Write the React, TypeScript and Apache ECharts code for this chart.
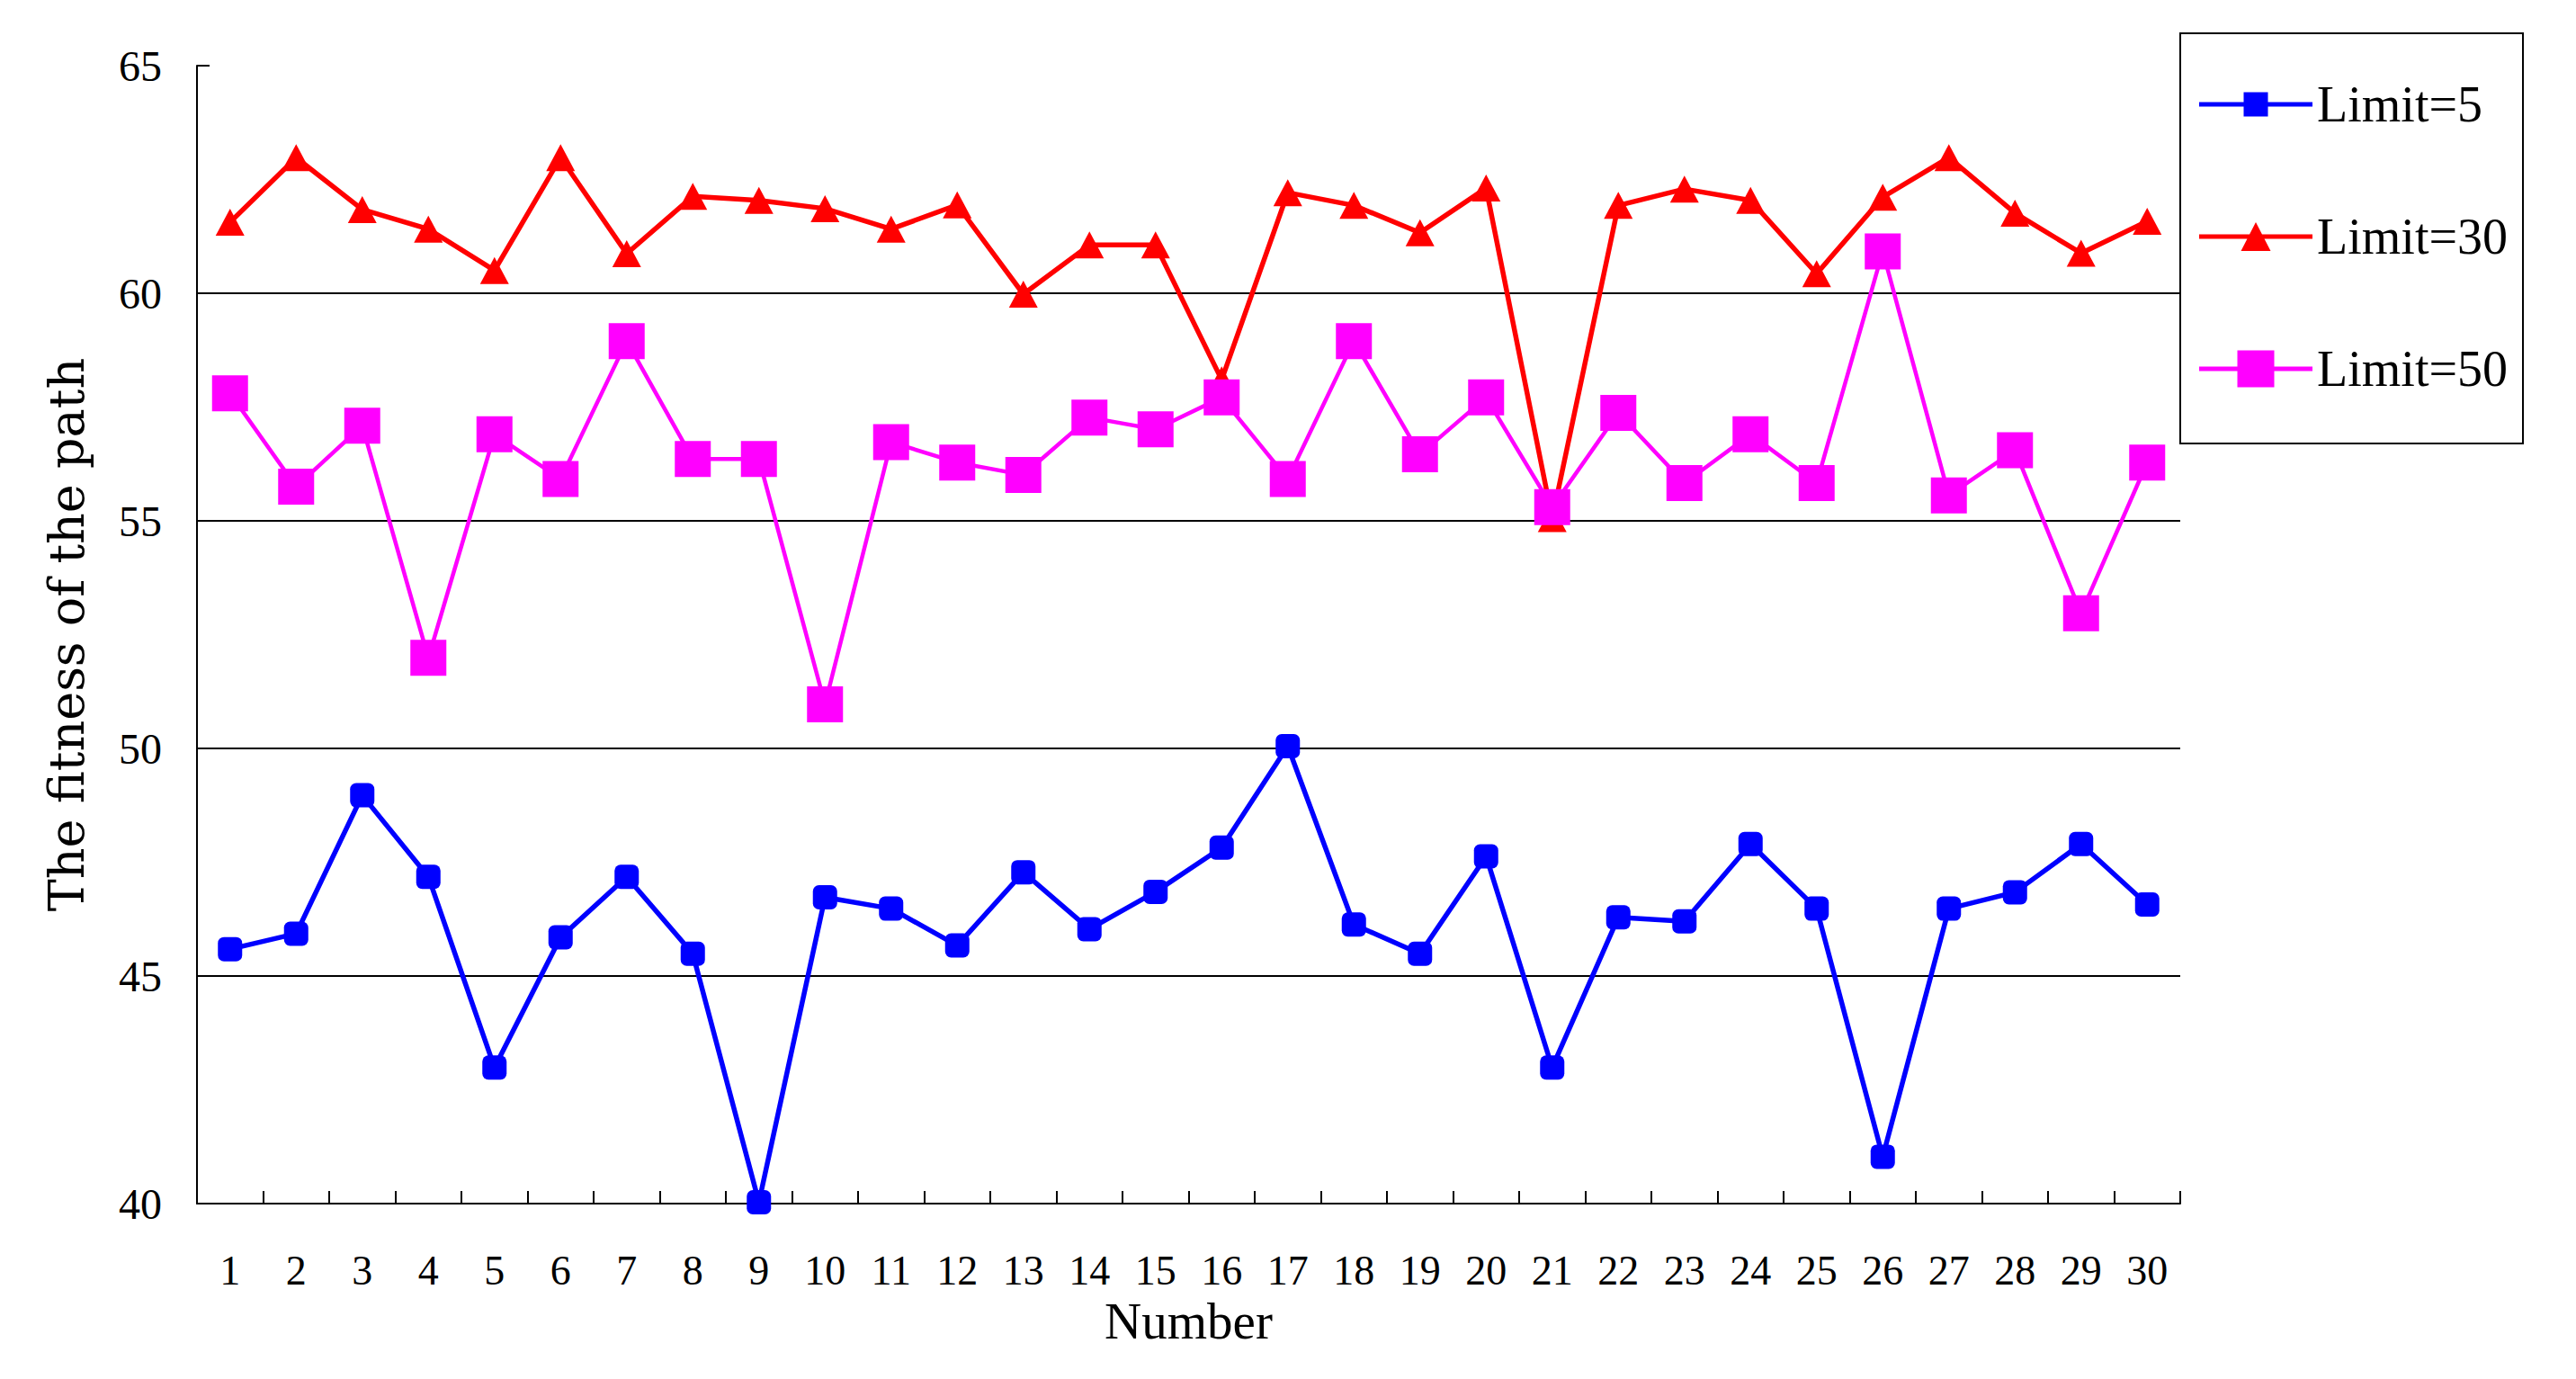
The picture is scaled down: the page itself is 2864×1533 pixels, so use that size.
import React, { useEffect, useRef } from 'react';
import * as echarts from 'echarts';

const categories = ['1','2','3','4','5','6','7','8','9','10','11','12','13','14','15','16','17','18','19','20','21','22','23','24','25','26','27','28','29','30'];
const seriesNames = ['Limit=5', 'Limit=30', 'Limit=50'];
const limit5 = [45.59, 45.93, 48.97, 47.18, 42.99, 45.85, 47.18, 45.49, 40.03, 46.73, 46.48, 45.67, 47.28, 46.03, 46.85, 47.82, 50.05, 46.13, 45.49, 47.63, 42.99, 46.29, 46.2, 47.9, 46.48, 41.03, 46.48, 46.84, 47.9, 46.57];
const limit30 = [61.56, 62.98, 61.84, 61.41, 60.5, 62.98, 60.87, 62.13, 62.04, 61.86, 61.41, 61.94, 59.98, 61.06, 61.06, 58.1, 62.21, 61.93, 61.33, 62.31, 55.05, 61.93, 62.29, 62.04, 60.43, 62.11, 62.98, 61.76, 60.88, 61.58];
const limit50 = [57.8, 55.75, 57.09, 51.99, 56.9, 55.92, 58.95, 56.36, 56.36, 50.97, 56.73, 56.28, 56.01, 57.27, 57.01, 57.71, 55.92, 58.95, 56.46, 57.71, 55.3, 57.37, 55.83, 56.9, 55.83, 60.92, 55.56, 56.55, 52.97, 56.28];
const yTicks = { min: 40, max: 65, interval: 5 };

const corners = 'M0,0h0.01v0.01h-0.01Z M125.99,41.99h0.01v0.01h-0.01Z ';
const lineBar = 'M0,18.5h126v5h-126Z ';
const iconBlue = 'path://' + corners + lineBar + 'M49.5,7.5h27v27h-27Z';
const iconRed = 'path://' + corners + lineBar + 'M63,5L79.5,37L46.5,37Z';
const iconMagenta = 'path://' + corners + lineBar + 'M42.5,0.5h41v41h-41Z';

export default function App() {
  const ref = useRef<HTMLDivElement>(null);
  useEffect(() => {
    const chart = echarts.init(ref.current!, null, { renderer: 'svg' });
    const serif = 'Liberation Serif';
    chart.setOption({
      animation: false,
      backgroundColor: '#fff',
      grid: { left: 219, top: 73, width: 2205, height: 1265, containLabel: false },
      legend: {
        orient: 'vertical',
        left: 2424,
        top: 37,
        padding: [51, 17, 55, 21],
        itemWidth: 126,
        itemHeight: 42,
        itemGap: 91,
        borderColor: '#000',
        borderWidth: 2,
        backgroundColor: '#fff',
        textStyle: { fontFamily: serif, fontSize: 56, color: '#000' },
        data: [
          { name: seriesNames[0], icon: iconBlue },
          { name: seriesNames[1], icon: iconRed },
          { name: seriesNames[2], icon: iconMagenta },
        ],
      },
      xAxis: {
        type: 'category',
        data: categories,
        boundaryGap: true,
        axisLine: { lineStyle: { color: '#000', width: 2 } },
        axisTick: { show: true, inside: true, length: 14, lineStyle: { color: '#000', width: 2 } },
        axisLabel: { color: '#000', fontFamily: serif, fontSize: 46, margin: 51, interval: 0 },
        splitLine: { show: false },
        name: 'Number',
        nameLocation: 'middle',
        nameGap: 91,
        nameTextStyle: { fontFamily: serif, fontSize: 57, color: '#000' },
      },
      yAxis: {
        type: 'value',
        min: yTicks.min,
        max: yTicks.max,
        interval: yTicks.interval,
        axisLine: { show: true, lineStyle: { color: '#000', width: 2 } },
        axisTick: { show: true, inside: true, length: 14, lineStyle: { color: '#000', width: 2 } },
        axisLabel: { color: '#000', fontFamily: serif, fontSize: 48, margin: 39 },
        splitLine: { show: true, lineStyle: { color: ['#000', '#000', '#000', '#000', '#000', 'rgba(0,0,0,0)'], width: 2 } },
        name: 'The fitness of the path',
        nameLocation: 'middle',
        nameGap: 118,
        nameTextStyle: { fontFamily: 'DejaVu Serif', fontSize: 54, color: '#000' },
      },
      series: [
        {
          name: seriesNames[0], type: 'line', data: limit5,
          symbol: 'roundRect', symbolSize: 27, showAllSymbol: true,
          itemStyle: { color: '#0000FF', borderWidth: 0 },
          lineStyle: { color: '#0000FF', width: 5.5 },
        },
        {
          name: seriesNames[1], type: 'line', data: limit30,
          symbol: 'triangle', symbolSize: [32, 30], showAllSymbol: true,
          itemStyle: { color: '#FF0000', borderWidth: 0 },
          lineStyle: { color: '#FF0000', width: 5.5 },
        },
        {
          name: seriesNames[2], type: 'line', data: limit50,
          symbol: 'rect', symbolSize: 40, showAllSymbol: true,
          itemStyle: { color: '#FF00FF', borderWidth: 0 },
          lineStyle: { color: '#FF00FF', width: 4.5 },
        },
      ],
    });
    return () => chart.dispose();
  }, []);
  return <div ref={ref} style={{ position: 'fixed', left: 0, top: 0, width: 2864, height: 1533, background: '#fff' }} />;
}
